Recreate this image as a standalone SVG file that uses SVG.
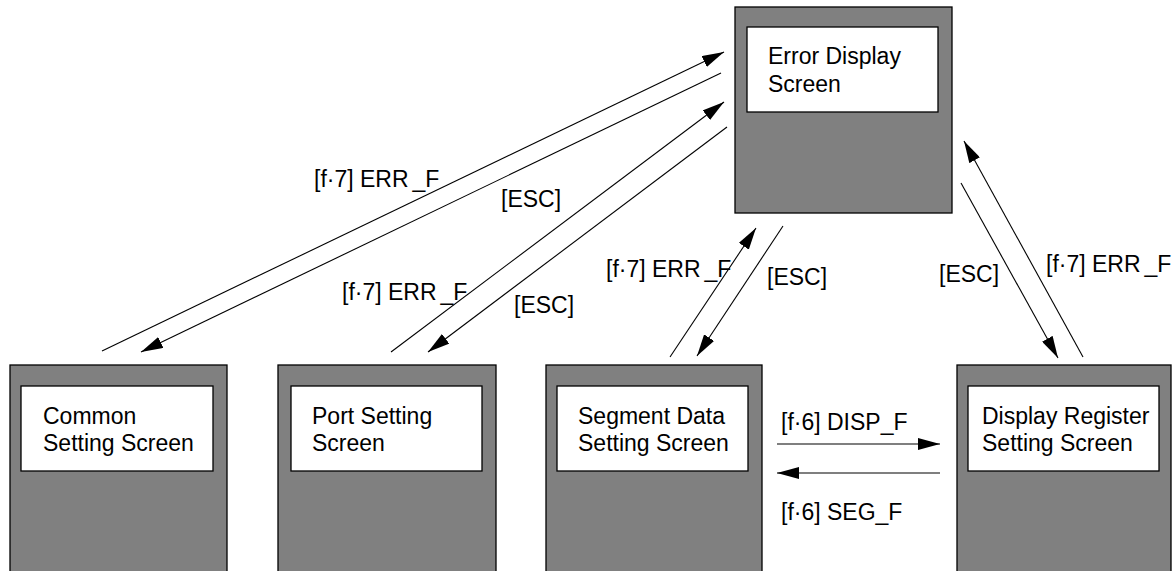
<svg xmlns="http://www.w3.org/2000/svg" width="1174" height="571" viewBox="0 0 1174 571">
<style>
.outer{fill:#808080;stroke:#000;stroke-width:1.3}
.inner{fill:#fff;stroke:#000;stroke-width:1.3}
text{font-family:"Liberation Sans",Arial,sans-serif;font-size:23px;fill:#000}
.conn line{stroke:#000;stroke-width:1.1}
</style>
<defs>
<marker id="ah" viewBox="0 0 22 12" refX="22" refY="6" markerWidth="22" markerHeight="12" markerUnits="userSpaceOnUse" orient="auto">
<path d="M0,0 L22,6 L0,12 z" fill="#000"/>
</marker>
</defs>
<rect width="1174" height="571" fill="#fff"/>
<g id="error">
<rect class="outer" x="735" y="7" width="217" height="206"/>
<rect class="inner" x="747" y="27" width="191" height="85"/>
<text x="768" y="64">Error Display</text>
<text x="768" y="92">Screen</text>
</g>
<g id="common">
<rect class="outer" x="10" y="365" width="217" height="220"/>
<rect class="inner" x="21" y="386" width="192" height="85"/>
<text x="43" y="424">Common</text>
<text x="43" y="451">Setting Screen</text>
</g>
<g id="port">
<rect class="outer" x="278" y="365" width="218" height="220"/>
<rect class="inner" x="291" y="386" width="191" height="85"/>
<text x="312" y="424">Port Setting</text>
<text x="312" y="451">Screen</text>
</g>
<g id="segment">
<rect class="outer" x="546" y="365" width="216" height="220"/>
<rect class="inner" x="557" y="386" width="191" height="85"/>
<text x="578" y="424">Segment Data</text>
<text x="578" y="451">Setting Screen</text>
</g>
<g id="dispreg">
<rect class="outer" x="957" y="365" width="214" height="220"/>
<rect class="inner" x="968" y="386" width="191" height="85"/>
<text x="982" y="424">Display Register</text>
<text x="982" y="451">Setting Screen</text>
</g>
<g class="conn" id="connectors">
<line x1="102" y1="351" x2="724" y2="52" marker-end="url(#ah)"/>
<line x1="721" y1="73" x2="141" y2="352" marker-end="url(#ah)"/>
<line x1="391" y1="352" x2="724" y2="102" marker-end="url(#ah)"/>
<line x1="727" y1="127" x2="428" y2="352" marker-end="url(#ah)"/>
<line x1="670" y1="357" x2="756" y2="228" marker-end="url(#ah)"/>
<line x1="783" y1="226" x2="697" y2="356" marker-end="url(#ah)"/>
<line x1="1083" y1="357" x2="964" y2="141" marker-end="url(#ah)"/>
<line x1="961" y1="183" x2="1058" y2="358" marker-end="url(#ah)"/>
<line x1="777" y1="444" x2="940" y2="444" marker-end="url(#ah)"/>
<line x1="940" y1="473" x2="777" y2="473" marker-end="url(#ah)"/>
</g>
<g id="labels">
<text x="314" y="187">[f·7] ERR<tspan dx="4">_F</tspan></text>
<text x="501" y="207">[ESC]</text>
<text x="342" y="300">[f·7] ERR<tspan dx="4">_F</tspan></text>
<text x="514" y="313">[ESC]</text>
<text x="606" y="277">[f·7] ERR<tspan dx="4">_F</tspan></text>
<text x="767" y="285">[ESC]</text>
<text x="939" y="282">[ESC]</text>
<text x="1046" y="272">[f·7] ERR<tspan dx="4">_F</tspan></text>
<text x="781" y="430">[f·6] DISP_F</text>
<text x="781" y="520">[f·6] SEG_F</text>
</g>
</svg>
